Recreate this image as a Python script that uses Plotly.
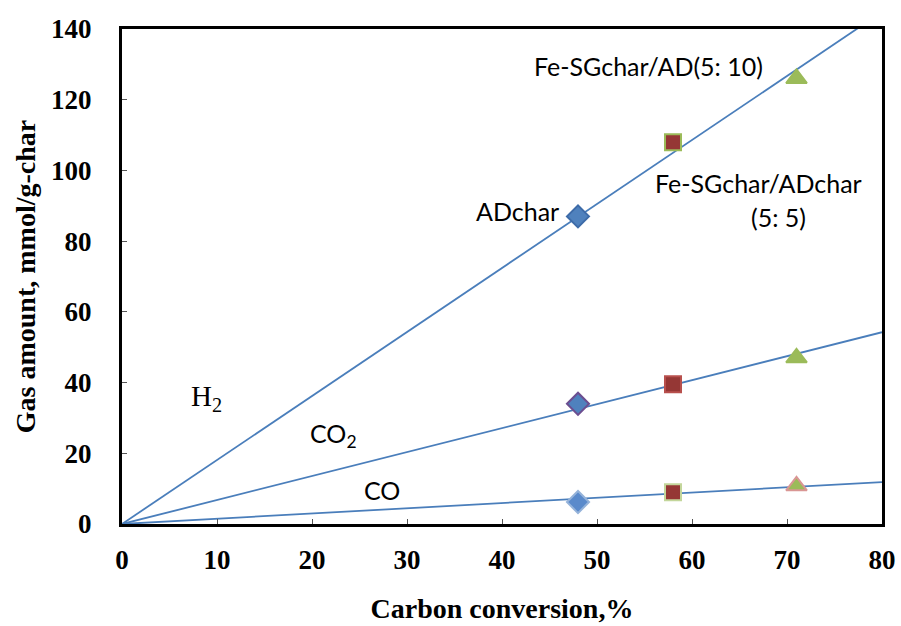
import numpy as np
import plotly.graph_objects as go

# ---- data ----
samples = ["ADchar", "Fe-SGchar/ADchar (5: 5)", "Fe-SGchar/AD(5: 10)"]
carbon_conv = [48, 58, 71]
h2 = [87, 108, 126]
co2 = [34, 39.5, 47]
co = [6.2, 9, 10.8]
x_ticks = [0, 10, 20, 30, 40, 50, 60, 70, 80]
y_ticks = [0, 20, 40, 60, 80, 100, 120, 140]

LINE = "#4A7EBB"
BLUE = "#4F81BD"
RED = "#953735"
GREEN = "#9BBB59"

fig = go.Figure()

def slope0(x, y):
    x = np.asarray(x, float); y = np.asarray(y, float)
    return float((x * y).sum() / (x * x).sum())

# trendlines through origin (least squares)
for ys in [h2, co2, co]:
    k = slope0(carbon_conv, ys)
    fig.add_trace(go.Scatter(x=[0, 80], y=[0, k * 80], mode="lines",
                             line=dict(color=LINE, width=1.8), showlegend=False,
                             hoverinfo="skip"))

# markers: per gas, per sample
sym = ["diamond", "square", "triangle-up"]
fills = {
    "h2": [BLUE, RED, GREEN],
    "co2": [BLUE, RED, GREEN],
    "co": ["#5A8ACB", RED, GREEN],
}
outlines = {
    "h2": ["#3D6BA8", GREEN, GREEN],
    "co2": ["#6B4E90", "#B8504D", GREEN],
    "co": ["#95B3DA", "#C3D69B", "#D99694"],
}
sizes = [17, 16, 18]
for key, ys in [("h2", h2), ("co2", co2), ("co", co)]:
    for i in range(3):
        fig.add_trace(go.Scatter(
            x=[carbon_conv[i]], y=[ys[i]], mode="markers",
            marker=dict(symbol=sym[i], size=sizes[i], color=fills[key][i],
                        line=dict(color=outlines[key][i], width=2)),
            showlegend=False, cliponaxis=False))

ann_font = dict(family="Lato, Open Sans, sans-serif", size=25, color="black")
anns = [
    dict(x=55.4, y=129.5, text="Fe-SGchar/AD(5: 10)"),
    dict(x=41.6, y=88.5, text="ADchar"),
    dict(x=67.0, y=96.4, text="Fe-SGchar/ADchar"),
    dict(x=69.1, y=86.8, text="(5: 5)"),
    dict(x=22.3, y=25.2, text="CO<sub>2</sub>"),
    dict(x=27.4, y=9.6, text="CO"),
]
for a in anns:
    fig.add_annotation(x=a["x"], y=a["y"], text=a["text"], showarrow=False,
                       font=ann_font, xanchor="center", yanchor="middle")
fig.add_annotation(x=8.9, y=35.5, text="H<sub>2</sub>", showarrow=False,
                   font=dict(family="Liberation Serif, Times New Roman, serif", size=29, color="black"),
                   xanchor="center", yanchor="middle")

tick_font = dict(family="Liberation Serif, Times New Roman, serif", size=27, color="black")
title_font = dict(family="Liberation Serif, Times New Roman, serif", size=28, color="black")

fig.update_xaxes(range=[0, 80], tickvals=x_ticks, ticktext=[f"<b>{v}</b>" for v in x_ticks],
                 tickfont=tick_font, ticks="inside", ticklen=5, tickcolor="#555",
                 showline=True, linecolor="black", linewidth=3, mirror=True,
                 showgrid=False, zeroline=False, ticklabelstandoff=10, automargin=False,
                 title=dict(text="<b>Carbon conversion,%</b>", font=title_font, standoff=24))
fig.update_yaxes(range=[0, 140], tickvals=y_ticks, ticktext=[f"<b>{v}</b>" for v in y_ticks],
                 tickfont=tick_font, ticks="inside", ticklen=5, tickcolor="#555",
                 showline=True, linecolor="black", linewidth=3, mirror=True,
                 showgrid=False, zeroline=False, ticklabelstandoff=22, automargin=False,
                 title=dict(text="<b>Gas amount, mmol/g-char</b>", font=title_font, standoff=8))

fig.update_layout(width=901, height=626, plot_bgcolor="white", paper_bgcolor="white",
                  margin=dict(l=122, r=19, t=29, b=102), showlegend=False)

fig.write_html("out.html")
